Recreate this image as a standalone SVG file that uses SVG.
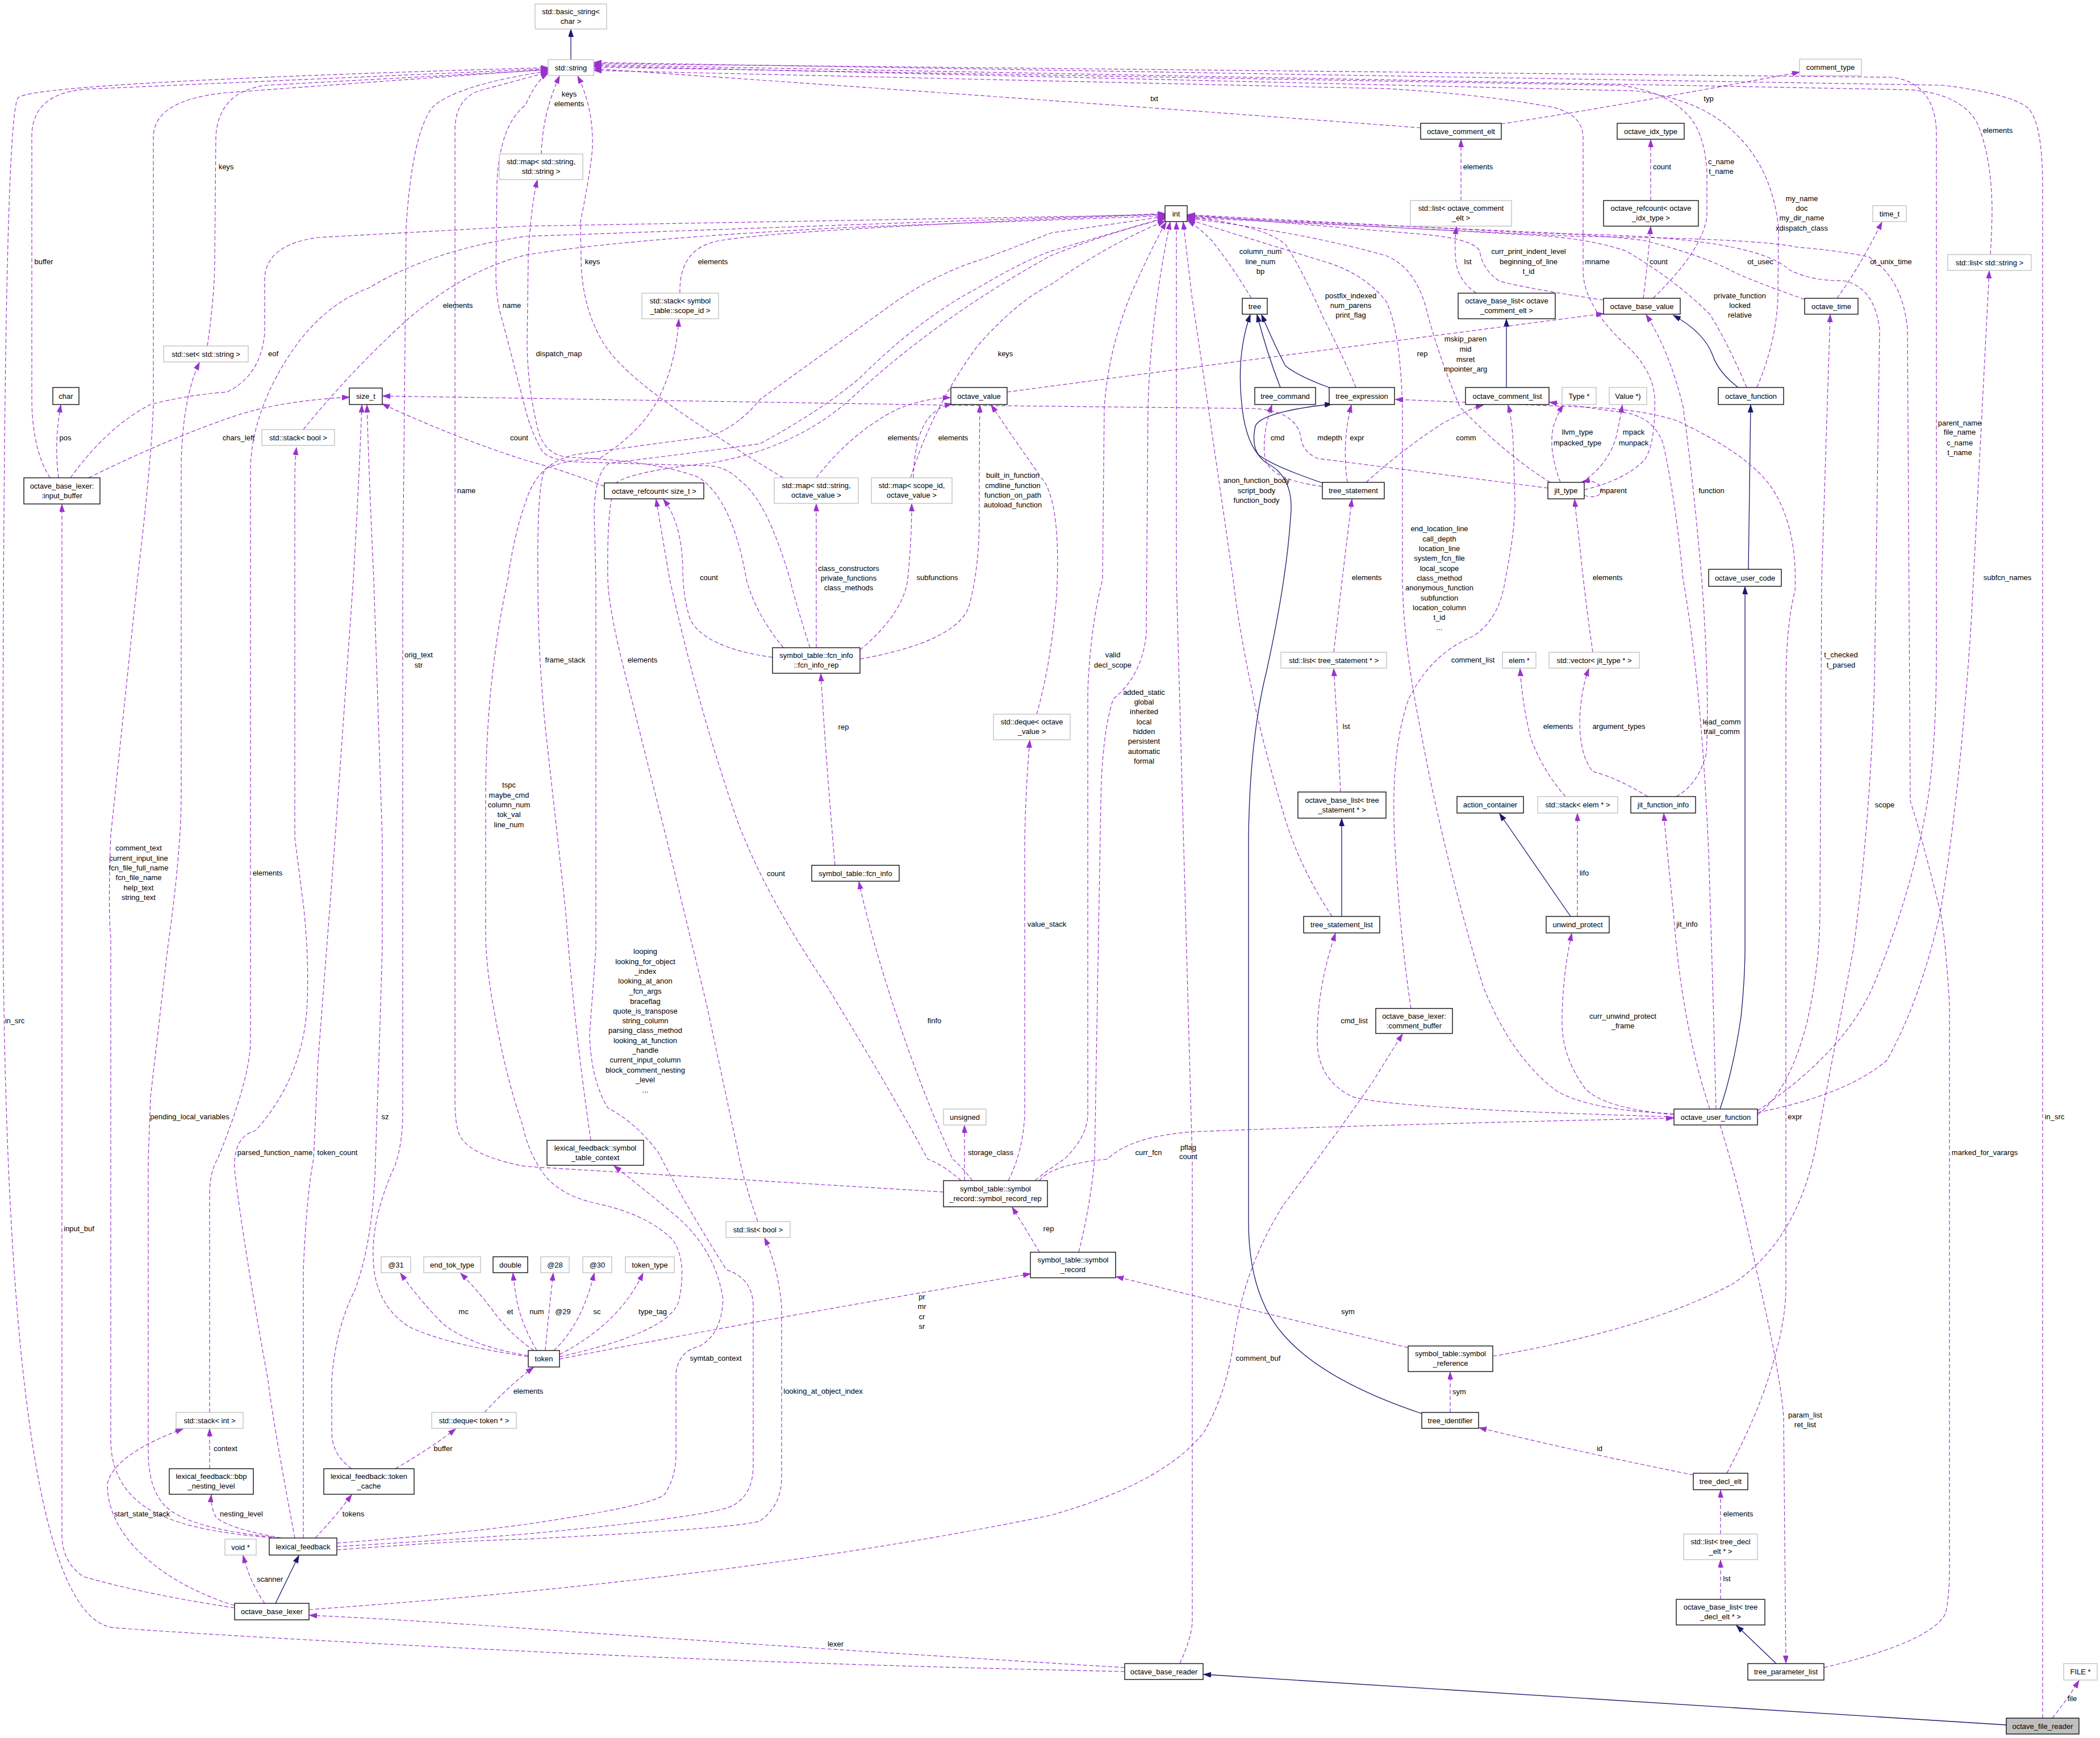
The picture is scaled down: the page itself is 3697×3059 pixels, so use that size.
<svg xmlns="http://www.w3.org/2000/svg" width="3697" height="3059" viewBox="0 0 3697 3059">
<style>
text{font-family:"Liberation Sans",Arial,Helvetica,sans-serif;font-size:13px;fill:#000;text-anchor:middle}
.n rect{fill:#fff;stroke:#000;stroke-width:1.3}
.g rect{fill:#fff;stroke:#bfbfbf;stroke-width:1.3}
.m rect{fill:#bfbfbf;stroke:#000;stroke-width:1.3}
.e{fill:none;stroke:#9a32cd;stroke-width:1.2;stroke-dasharray:7,4;marker-end:url(#ap)}
.s{fill:none;stroke:#191970;stroke-width:1.3;marker-end:url(#ab)}
</style>
<defs>
<marker id="ap" markerUnits="userSpaceOnUse" markerWidth="14" markerHeight="10" refX="13" refY="4.5" orient="auto" viewBox="0 0 14 10"><path d="M0,0 L13,4.5 L0,9 z" fill="#9a32cd" stroke="#9a32cd" stroke-width="1" stroke-dasharray="none"/></marker>
<marker id="ab" markerUnits="userSpaceOnUse" markerWidth="14" markerHeight="10" refX="13" refY="4.5" orient="auto" viewBox="0 0 14 10"><path d="M0,0 L13,4.5 L0,9 z" fill="#191970" stroke="#191970" stroke-width="1"/></marker>
</defs>
<rect x="0" y="0" width="3697" height="3059" fill="#fff"/>
<g id="connectors">
<path class="s" d="M1005,105 L1005,52"/>
<path class="s" d="M3060,682 Q3025,655 3015,625 Q3000,585 2946,555"/>
<path class="s" d="M3078,1002 L3082,713"/>
<path class="s" d="M3028,1952 Q3051,1885 3065,1790 Q3072,1720 3072,1670 L3072,1033"/>
<path class="s" d="M2254,682 Q2230,620 2213,554"/>
<path class="s" d="M2340,682 Q2287,663 2263,644 Q2245,610 2221,554"/>
<path class="s" d="M2328,850 Q2240,820 2215,800 Q2190,770 2185,700 Q2178,620 2201,554"/>
<path class="s" d="M2503,2488 Q2330,2430 2260,2350 Q2198,2280 2198,2150 L2198,1475 Q2200,1300 2230,1180 Q2265,1020 2272,911 Q2280,840 2230,815 Q2200,795 2210,750 Q2220,725 2345,711"/>
<path class="s" d="M2362,1613 L2362,1441"/>
<path class="s" d="M2765,1613 L2640,1432"/>
<path class="s" d="M2652,682 L2652,562"/>
<path class="s" d="M485,2822 L526,2738"/>
<path class="s" d="M3532,3036 L2119,2947"/>
<path class="s" d="M3127,2928 L3057,2861"/>

<path class="e" d="M1980,2942 Q1400,2930 900,2905 Q400,2880 202,2865 Q5,2850 5,1525 Q5,200 32,172 Q60,145 965,119"/>
<path class="e" d="M88,841 Q56,790 56,700 L56,240 Q56,165 150,157 L965,121"/>
<path class="e" d="M490,2707 Q300,2695 240,2640 Q195,2600 195,2534 L195,1650 Q190,1600 195,1470 L242,1020 Q270,780 270,700 L270,240 Q272,175 400,163 L965,122"/>
<path class="e" d="M365,609 Q378,520 378,455 L380,240 Q385,160 470,150 L965,123"/>
<path class="e" d="M930,2388 Q780,2365 720,2335 Q665,2300 658,2230 Q650,2150 696,2050 Q709,2010 709,1960 L709,1020 L715,400 Q725,240 760,190 Q800,150 965,125"/>
<path class="e" d="M1661,2098 L925,2053 Q830,2035 810,2000 Q801,1980 801,1940 L801,230 Q801,170 850,158 L965,127"/>
<path class="e" d="M1426,1140 Q1400,1060 1391,1020 Q1350,880 1303,846 Q1280,822 1250,820 L1013,813 Q970,810 955,795 Q935,760 925,720 L885,566 Q873,530 873,480 L875,320 Q880,220 925,185 Q945,140 965,129"/>
<path class="e" d="M953,271 Q955,200 985,134"/>
<path class="e" d="M1379,841 Q1279,781 1190,720 Q1090,651 1060,600 Q1025,540 1023,460 L1022,390 Q1040,300 1043,260 Q1045,190 1017,134"/>
<path class="e" d="M2501,225 Q1800,172 1046,121"/>
<path class="e" d="M2789,862 Q2860,845 2895,810 Q2915,780 2913,700 Q2910,650 2860,605 Q2790,540 2787,480 L2787,240 Q2785,200 2730,188 Q2600,165 2440,156 L1046,124"/>
<path class="e" d="M2910,525 Q2998,440 3005,380 L3005,300 Q3000,230 2969,200 Q2930,160 2850,150 L1046,118"/>
<path class="e" d="M3093,682 Q3128,600 3130,520 L3131,400 Q3120,300 3060,240 Q3000,175 2880,160 L1046,116"/>
<path class="e" d="M3504,448 Q3507,400 3507,364 Q3505,270 3480,215 Q3451,165 3363,158 L1046,114"/>
<path class="e" d="M3094,1955 Q3250,1850 3300,1730 Q3370,1560 3395,1400 Q3409,1300 3409,1150 L3409,230 Q3405,145 3330,136 L1046,112"/>
<path class="e" d="M3596,3024 L3596,330 Q3596,215 3570,190 Q3540,165 3420,150 L1046,110"/>
<path class="e" d="M478,2705 Q330,2690 290,2650 Q262,2620 261,2560 L261,2040 L265,1931 L295,1670 Q319,1500 319,1400 L319,813 Q322,700 351,638"/>
<path class="e" d="M1379,1140 Q1330,1080 1314,1020 Q1290,880 1230,840 Q1150,810 1000,805 Q960,800 948,760 Q928,680 928,600 L930,450 Q935,360 946,317"/>
<path class="e" d="M103,841 Q95,780 107,713"/>
<path class="e" d="M156,841 Q300,770 420,730 Q500,705 615,699"/>
<path class="e" d="M124,841 Q190,750 265,712 Q330,695 400,690 Q460,660 466,585 L466,488 Q470,430 560,418 L925,398 L2051,378"/>
<path class="e" d="M534,756 Q620,650 720,560 Q820,475 925,449 Q1100,420 1500,400 L2051,380"/>
<path class="e" d="M369,2486 L369,2100 Q370,2060 383,2040 Q440,1900 441,1833 L441,820 Q445,730 500,640 Q560,540 649,507 Q760,440 925,416 L2051,376"/>
<path class="e" d="M519,2707 Q480,2500 472,2430 Q430,2200 413,2060 Q410,2000 450,1990 Q530,1900 540,1780 Q545,1700 535,1600 L519,1475 L519,850 Q519,810 522,788"/>
<path class="e" d="M534,2707 L534,2235 Q540,2100 552,2040 L560,1866 L590,1475 L622,1020 Q632,850 637,713"/>
<path class="e" d="M619,2585 Q584,2560 584,2520 L584,2430 Q590,2340 625,2270 Q658,2180 661,2040 L667,1866 L673,1670 L673,1475 L658,1020 Q650,850 646,713"/>
<path class="e" d="M985,2388 Q1179,2345 1195,2290 Q1210,2220 1185,2183 Q1140,2137 1049,2118 Q990,2105 960,2070 Q930,2030 920,1980 Q891,1898 870,1780 Q855,1700 855,1640 L855,1410 Q855,1200 894,1020 Q905,940 925,885 Q945,815 1013,800 L1250,768 Q1300,750 1338,703 L1574,533 Q1650,480 1733,455 Q1800,430 1850,410 L2051,381"/>
<path class="e" d="M930,2386 Q830,2370 780,2330 Q740,2290 705,2241"/>
<path class="e" d="M940,2377 Q900,2350 870,2310 Q840,2270 811,2241"/>
<path class="e" d="M945,2377 Q918,2330 910,2290 Q905,2260 903,2241"/>
<path class="e" d="M960,2377 Q966,2310 974,2241"/>
<path class="e" d="M975,2377 Q1025,2330 1046,2241"/>
<path class="e" d="M985,2384 Q1090,2330 1132,2241"/>
<path class="e" d="M985,2392 Q1300,2330 1814,2242"/>
<path class="e" d="M853,2486 Q900,2435 939,2407"/>
<path class="e" d="M696,2585 Q760,2548 802,2515"/>
<path class="e" d="M369,2585 L369,2515"/>
<path class="e" d="M495,2707 Q400,2690 380,2670 Q370,2650 372,2631"/>
<path class="e" d="M555,2707 Q590,2670 619,2631"/>
<path class="e" d="M466,2822 Q440,2785 428,2738"/>
<path class="e" d="M413,2826 Q300,2790 236,2722 Q189,2670 189,2612 Q200,2560 322,2515"/>
<path class="e" d="M413,2830 Q250,2805 147,2775 Q109,2750 109,2700 L109,888"/>
<path class="e" d="M544,2833 Q1300,2780 1850,2667 Q2050,2610 2120,2520 Q2160,2450 2172,2360 Q2190,2230 2260,2120 Q2350,2000 2416,1905 Q2450,1850 2469,1820"/>
<path class="e" d="M1980,2935 Q1400,2900 925,2866 Q700,2850 545,2843"/>
<path class="e" d="M3613,3024 Q3640,2990 3660,2958"/>
<path class="e" d="M3029,2815 L3029,2746"/>
<path class="e" d="M3029,2700 L3029,2623"/>
<path class="e" d="M2981,2596 Q2800,2560 2604,2513"/>
<path class="e" d="M3040,2593 Q3092,2495 3115,2420 Q3144,2330 3144,2267 L3144,1215 Q3144,1100 3160,1040 Q3165,930 3120,860 Q3080,800 2951,740 Q2880,718 2775,716 L2457,703"/>
<path class="e" d="M2553,2486 L2553,2415"/>
<path class="e" d="M2479,2372 Q2200,2305 1965,2247"/>
<path class="e" d="M2628,2387 Q2900,2340 3050,2260 Q3170,2180 3200,2000 L3263,1670 Q3292,1450 3300,1200 L3309,580 Q3300,505 3245,494 Q3190,495 3150,475 Q3090,418 2775,412 L2091,381"/>
<path class="e" d="M3028,1980 Q3060,2080 3092,2235 Q3135,2420 3140,2495 L3144,2927"/>
<path class="e" d="M3211,2935 Q3400,2890 3425,2840 Q3432,2810 3432,2760 L3432,1768 Q3425,1650 3416,1605 Q3380,1460 3363,1410 L3358,580 Q3350,490 3290,452 Q3230,440 3163,435 Q3100,420 2775,416 L2091,383"/>
<path class="e" d="M3094,1958 Q3251,1927 3322,1866 Q3381,1760 3416,1605 Q3450,1400 3470,1100 L3502,477"/>
<path class="e" d="M3094,1962 Q3150,1920 3181,1800 Q3204,1700 3204,1600 L3207,1020 L3222,554"/>
<path class="e" d="M3021,1952 Q3016,1750 3008,1500 Q2995,1200 2963,1020 Q2950,880 2928,781 Q2910,730 2850,725 L2728,708"/>
<path class="e" d="M3010,1952 Q2960,1800 2946,1605 Q2935,1500 2929,1432"/>
<path class="e" d="M2947,1962 Q2820,1950 2790,1915 Q2750,1860 2750,1800 Q2750,1720 2767,1643"/>
<path class="e" d="M2947,1966 L2775,1960 Q2440,1948 2380,1930 Q2320,1900 2319,1833 Q2318,1740 2351,1643"/>
<path class="e" d="M2947,1960 Q2800,1955 2740,1920 Q2660,1860 2611,1736 Q2540,1500 2500,1280 Q2470,1130 2469,1020 L2469,716 Q2465,580 2440,530 Q2400,480 2330,460 Q2200,420 2091,386"/>
<path class="e" d="M1830,2078 Q1850,2050 1950,2040 Q1990,2000 2100,1992 Q2400,1980 2946,1968"/>
<path class="e" d="M1698,2078 L1698,1981"/>
<path class="e" d="M1775,2078 Q1800,2030 1804,1963 L1804,1475 Q1806,1380 1813,1303"/>
<path class="e" d="M1712,2078 Q1690,2050 1677,2040 Q1640,1960 1600,1850 Q1540,1680 1512,1552"/>
<path class="e" d="M1692,2078 Q1660,2050 1633,2040 Q1580,1940 1456,1736 Q1350,1580 1300,1450 Q1230,1250 1179,1020 L1155,879"/>
<path class="e" d="M1822,2078 Q1850,2055 1874,2040 Q1915,2000 1915,1960 L1915,1215 Q1920,1100 1941,1020 L1944,720 Q1950,620 1990,520 Q2030,430 2053,391"/>
<path class="e" d="M1899,2204 Q1920,2120 1927,2040 L1938,1410 Q1940,1290 1960,1230 Q2010,1190 2018,1117 L2021,720 Q2025,560 2060,391"/>
<path class="e" d="M1830,2204 Q1810,2170 1782,2125"/>
<path class="e" d="M1470,1523 Q1455,1350 1445,1186"/>
<path class="e" d="M1360,1157 Q1240,1140 1215,1090 Q1202,1050 1202,1000 Q1200,920 1168,879"/>
<path class="e" d="M1437,1140 L1437,887"/>
<path class="e" d="M1514,1144 Q1590,1080 1598,1020 Q1605,950 1605,887"/>
<path class="e" d="M1514,1160 Q1680,1130 1705,1070 Q1725,1000 1724,900 Q1724,780 1725,713"/>
<path class="e" d="M1437,841 Q1500,760 1580,720 Q1630,700 1673,700"/>
<path class="e" d="M1608,841 Q1610,760 1640,730 Q1655,715 1676,711"/>
<path class="e" d="M1603,841 Q1640,720 1720,610 Q1790,530 1850,501 Q1950,430 2051,389"/>
<path class="e" d="M1773,690 Q2300,620 2823,552"/>
<path class="e" d="M1825,1257 Q1850,1170 1860,1050 Q1868,900 1840,850 Q1790,780 1745,713"/>
<path class="e" d="M1064,856 Q1000,830 925,810 Q800,770 673,711"/>
<path class="e" d="M1197,516 Q1195,440 1260,425 Q1350,405 2051,377"/>
<path class="e" d="M1040,2007 Q1010,1800 996,1605 L960,1280 Q947,1150 947,1020 Q945,850 960,825 Q1000,808 1055,807 Q1130,760 1160,700 Q1190,640 1195,562"/>
<path class="e" d="M593,2716 Q800,2700 925,2683 Q1150,2650 1170,2630 Q1190,2600 1190,2560 L1190,2417 Q1195,2378 1230,2370 Q1270,2350 1273,2287 Q1260,2200 1190,2140 Q1130,2090 1081,2052"/>
<path class="e" d="M593,2728 Q800,2712 925,2709 Q1300,2690 1338,2677 Q1376,2650 1376,2600 L1376,2300 Q1370,2230 1346,2179"/>
<path class="e" d="M593,2722 Q800,2710 925,2700 Q1250,2670 1290,2650 Q1326,2630 1326,2580 L1326,2300 Q1326,2250 1279,2235 Q1200,2110 1160,2030 Q1120,1976 1070,1950 Q1040,1900 1038,1820 L1049,1670 L1049,1020 L1046,900 Q1048,830 1073,815 Q1200,800 1338,781 Q1450,720 1515,664 Q1620,560 1721,507 Q1800,460 1850,442 L2051,383"/>
<path class="e" d="M1334,2150 Q1310,2080 1302,2040 L1244,1768 L1173,1475 L1108,1215 Q1072,1080 1070,1020 Q1068,880 1085,850 Q1110,830 1250,815 Q1400,790 1500,700 Q1650,560 1850,450 Q1950,410 2051,385"/>
<path class="e" d="M2203,525 Q2169,468 2133,423 Q2110,400 2091,388"/>
<path class="e" d="M2387,682 Q2369,637 2330,560 Q2290,470 2263,430 Q2220,395 2091,382"/>
<path class="e" d="M2823,528 Q2700,510 2640,495 Q2610,475 2605,442 Q2595,420 2500,412 L2091,378"/>
<path class="e" d="M2893,525 Q2900,470 2906,399"/>
<path class="e" d="M2906,353 L2906,246"/>
<path class="e" d="M3075,682 Q3040,600 3010,553 Q2951,494 2863,442 Q2800,420 2700,414 L2091,380"/>
<path class="e" d="M3177,527 Q3100,500 3057,481 Q2998,449 2893,423 Q2800,412 2700,410 L2091,378"/>
<path class="e" d="M3234,525 Q3275,468 3313,391"/>
<path class="e" d="M2729,849 Q2650,800 2570,716 Q2530,620 2510,540 Q2490,470 2440,450 Q2300,410 2091,384"/>
<path class="e" d="M2725,859 Q2500,830 2320,807 Q2292,795 2290,768 Q2280,722 2204,719 L1662,713 L925,701 L674,697"/>
<path class="e" d="M2747,849 Q2725,790 2735,750 Q2742,728 2752,713"/>
<path class="e" d="M2784,849 Q2830,820 2845,770 Q2852,740 2856,713"/>
<path class="e" d="M2789,872 C2830,885 2830,840 2786,848"/>
<path class="e" d="M2804,1148 Q2790,1050 2780,950 Q2775,910 2772,879"/>
<path class="e" d="M2901,1402 Q2845,1368 2804,1358 Q2781,1330 2781,1267 Q2783,1215 2797,1177"/>
<path class="e" d="M2951,1402 Q2990,1380 3004,1326 Q3010,1215 2996,1020 Q2981,846 2963,716 Q2940,620 2898,554"/>
<path class="e" d="M2756,1402 Q2717,1358 2695,1300 Q2680,1240 2676,1177"/>
<path class="e" d="M2777,1613 L2777,1432"/>
<path class="e" d="M2360,1394 Q2355,1290 2348,1177"/>
<path class="e" d="M2348,1148 Q2365,1000 2380,879"/>
<path class="e" d="M2328,856 Q2240,845 2228,810 Q2220,770 2239,713"/>
<path class="e" d="M2372,849 Q2362,780 2379,713"/>
<path class="e" d="M2405,849 Q2470,790 2540,745 Q2590,718 2611,713"/>
<path class="e" d="M2599,516 Q2567,494 2563,460 Q2560,430 2564,399"/>
<path class="e" d="M2572,353 L2572,246"/>
<path class="e" d="M2643,218 Q2800,195 3168,127"/>
<path class="e" d="M2484,1775 Q2465,1650 2455,1475 Q2448,1320 2480,1230 Q2520,1150 2593,1120 Q2640,1090 2650,1020 Q2668,930 2667,880 L2664,781 Q2662,740 2655,713"/>
<path class="e" d="M2345,1613 Q2290,1530 2263,1443 Q2220,1300 2204,1215 Q2180,1100 2171,1020 L2127,716 Q2110,600 2098,520 Q2090,450 2083,391"/>
<path class="e" d="M2077,2928 Q2099,2880 2099,2852 L2099,2040 L2071,1020 L2071,391"/>

<g id="edge-labels">
<text x="398" y="297.5">keys</text>
<text x="77" y="464.5">buffer</text>
<text x="481" y="626.5">eof</text>
<text x="115" y="774.5">pos</text>
<text x="420" y="774.5">chars_left</text>
<text x="806" y="541.5">elements</text>
<text x="901" y="541.5">name</text>
<text x="821" y="867.5">name</text>
<text x="914" y="774.5">count</text>
<text x="1002"><tspan x="1002" y="169.5">keys</tspan><tspan x="1002" y="186.5">elements</tspan></text>
<text x="1043" y="464.5">keys</text>
<text x="1255" y="464.5">elements</text>
<text x="984" y="626.5">dispatch_map</text>
<text x="1770" y="626.5">keys</text>
<text x="1589" y="774.5">elements</text>
<text x="1678" y="774.5">elements</text>
<text x="1783"><tspan x="1783" y="840.5">built_in_function</tspan><tspan x="1783" y="858.5">cmdline_function</tspan><tspan x="1783" y="875.5">function_on_path</tspan><tspan x="1783" y="892.5">autoload_function</tspan></text>
<text x="1494"><tspan x="1494" y="1004.5">class_constructors</tspan><tspan x="1494" y="1021.5">private_functions</tspan><tspan x="1494" y="1038.5">class_methods</tspan></text>
<text x="1248" y="1020.5">count</text>
<text x="1650" y="1020.5">subfunctions</text>
<text x="2032" y="177.5">txt</text>
<text x="2602" y="297.5">elements</text>
<text x="2219"><tspan x="2219" y="446.5">column_num</tspan><tspan x="2219" y="464.5">line_num</tspan><tspan x="2219" y="481.5">bp</tspan></text>
<text x="2584" y="464.5">lst</text>
<text x="2691"><tspan x="2691" y="446.5">curr_print_indent_level</tspan><tspan x="2691" y="464.5">beginning_of_line</tspan><tspan x="2691" y="481.5">t_id</tspan></text>
<text x="2378"><tspan x="2378" y="524.5">postfix_indexed</tspan><tspan x="2378" y="541.5">num_parens</tspan><tspan x="2378" y="558.5">print_flag</tspan></text>
<text x="2504" y="626.5">rep</text>
<text x="2580"><tspan x="2580" y="600.5">mskip_paren</tspan><tspan x="2580" y="618.5">mid</tspan><tspan x="2580" y="636.5">msret</tspan><tspan x="2580" y="653.5">mpointer_arg</tspan></text>
<text x="2249" y="774.5">cmd</text>
<text x="2341" y="774.5">mdepth</text>
<text x="2389" y="774.5">expr</text>
<text x="2581" y="774.5">comm</text>
<text x="2212"><tspan x="2212" y="849.5">anon_function_body</tspan><tspan x="2212" y="867.5">script_body</tspan><tspan x="2212" y="884.5">function_body</tspan></text>
<text x="2534"><tspan x="2534" y="934.5">end_location_line</tspan><tspan x="2534" y="952.5">call_depth</tspan><tspan x="2534" y="969.5">location_line</tspan><tspan x="2534" y="986.5">system_fcn_file</tspan><tspan x="2534" y="1004.5">local_scope</tspan><tspan x="2534" y="1021.5">class_method</tspan><tspan x="2534" y="1038.5">anonymous_function</tspan><tspan x="2534" y="1056.5">subfunction</tspan><tspan x="2534" y="1073.5">location_column</tspan><tspan x="2534" y="1090.5">t_id</tspan><tspan x="2534" y="1108.5">...</tspan></text>
<text x="2406" y="1020.5">elements</text>
<text x="3008" y="177.5">typ</text>
<text x="2926" y="297.5">count</text>
<text x="3030"><tspan x="3030" y="288.5">c_name</tspan><tspan x="3030" y="305.5">t_name</tspan></text>
<text x="3517" y="233.5">elements</text>
<text x="3172"><tspan x="3172" y="353.5">my_name</tspan><tspan x="3172" y="370.5">doc</tspan><tspan x="3172" y="387.5">my_dir_name</tspan><tspan x="3172" y="405.5">xdispatch_class</tspan></text>
<text x="2812" y="464.5">mname</text>
<text x="2920" y="464.5">count</text>
<text x="3099" y="464.5">ot_usec</text>
<text x="3329" y="464.5">ot_unix_time</text>
<text x="3063"><tspan x="3063" y="524.5">private_function</tspan><tspan x="3063" y="541.5">locked</tspan><tspan x="3063" y="558.5">relative</tspan></text>
<text x="2777"><tspan x="2777" y="764.5">llvm_type</tspan><tspan x="2777" y="783.5">mpacked_type</tspan></text>
<text x="2876"><tspan x="2876" y="764.5">mpack</tspan><tspan x="2876" y="783.5">munpack</tspan></text>
<text x="2840" y="867.5">mparent</text>
<text x="3013" y="867.5">function</text>
<text x="3450"><tspan x="3450" y="748.5">parent_name</tspan><tspan x="3450" y="764.5">file_name</tspan><tspan x="3450" y="783.5">c_name</tspan><tspan x="3450" y="800.5">t_name</tspan></text>
<text x="2830" y="1020.5">elements</text>
<text x="3534" y="1020.5">subfcn_names</text>
<text x="737"><tspan x="737" y="1156.5">orig_text</tspan><tspan x="737" y="1174.5">str</tspan></text>
<text x="896"><tspan x="896" y="1385.5">tspc</tspan><tspan x="896" y="1403.5">maybe_cmd</tspan><tspan x="896" y="1420.5">column_num</tspan><tspan x="896" y="1437.5">tok_val</tspan><tspan x="896" y="1455.5">line_num</tspan></text>
<text x="244"><tspan x="244" y="1496.5">comment_text</tspan><tspan x="244" y="1514.5">current_input_line</tspan><tspan x="244" y="1531.5">fcn_file_full_name</tspan><tspan x="244" y="1548.5">fcn_file_name</tspan><tspan x="244" y="1566.5">help_text</tspan><tspan x="244" y="1583.5">string_text</tspan></text>
<text x="471" y="1540.5">elements</text>
<text x="26" y="1800.5">in_src</text>
<text x="334" y="1969.5">pending_local_variables</text>
<text x="678" y="1969.5">sz</text>
<text x="484" y="2032.5">parsed_function_name</text>
<text x="594" y="2032.5">token_count</text>
<text x="995" y="1165.5">frame_stack</text>
<text x="1131" y="1165.5">elements</text>
<text x="1485" y="1283.5">rep</text>
<text x="1366" y="1541.5">count</text>
<text x="1645" y="1800.5">finfo</text>
<text x="1843" y="1630.5">value_stack</text>
<text x="1744" y="2032.5">storage_class</text>
<text x="1136"><tspan x="1136" y="1678.5">looping</tspan><tspan x="1136" y="1696.5">looking_for_object</tspan><tspan x="1136" y="1713.5">_index</tspan><tspan x="1136" y="1730.5">looking_at_anon</tspan><tspan x="1136" y="1748.5">_fcn_args</tspan><tspan x="1136" y="1766.5">braceflag</tspan><tspan x="1136" y="1783.5">quote_is_transpose</tspan><tspan x="1136" y="1800.5">string_column</tspan><tspan x="1136" y="1817.5">parsing_class_method</tspan><tspan x="1136" y="1835.5">looking_at_function</tspan><tspan x="1136" y="1852.5">_handle</tspan><tspan x="1136" y="1869.5">current_input_column</tspan><tspan x="1136" y="1887.5">block_comment_nesting</tspan><tspan x="1136" y="1904.5">_level</tspan><tspan x="1136" y="1922.5">...</tspan></text>
<text x="1959"><tspan x="1959" y="1156.5">valid</tspan><tspan x="1959" y="1174.5">decl_scope</tspan></text>
<text x="2014"><tspan x="2014" y="1222.5">added_static</tspan><tspan x="2014" y="1239.5">global</tspan><tspan x="2014" y="1256.5">inherited</tspan><tspan x="2014" y="1274.5">local</tspan><tspan x="2014" y="1291.5">hidden</tspan><tspan x="2014" y="1308.5">persistent</tspan><tspan x="2014" y="1326.5">automatic</tspan><tspan x="2014" y="1343.5">formal</tspan></text>
<text x="2593" y="1165.5">comment_list</text>
<text x="2370" y="1282.5">lst</text>
<text x="2743" y="1282.5">elements</text>
<text x="2384" y="1800.5">cmd_list</text>
<text x="2022" y="2032.5">curr_fcn</text>
<text x="2092"><tspan x="2092" y="2023.5">pflag</tspan><tspan x="2092" y="2039.5">count</tspan></text>
<text x="3241"><tspan x="3241" y="1156.5">t_checked</tspan><tspan x="3241" y="1174.5">t_parsed</tspan></text>
<text x="3031"><tspan x="3031" y="1274.5">lead_comm</tspan><tspan x="3031" y="1291.5">trail_comm</tspan></text>
<text x="2850" y="1282.5">argument_types</text>
<text x="3318" y="1420.5">scope</text>
<text x="2789" y="1540.5">lifo</text>
<text x="2970" y="1630.5">jit_info</text>
<text x="2857"><tspan x="2857" y="1792.5">curr_unwind_protect</tspan><tspan x="2857" y="1809.5">_frame</tspan></text>
<text x="3160" y="1969.5">expr</text>
<text x="3617" y="1969.5">in_src</text>
<text x="3494" y="2032.5">marked_for_varargs</text>
<text x="139" y="2166.5">input_buf</text>
<text x="816" y="2312.5">mc</text>
<text x="898" y="2312.5">et</text>
<text x="930" y="2452.5">elements</text>
<text x="397" y="2553.5">context</text>
<text x="780" y="2553.5">buffer</text>
<text x="250" y="2668.5">start_state_stack</text>
<text x="425" y="2668.5">nesting_level</text>
<text x="622" y="2668.5">tokens</text>
<text x="475" y="2783.5">scanner</text>
<text x="945" y="2312.5">num</text>
<text x="991" y="2312.5">@29</text>
<text x="1051" y="2312.5">sc</text>
<text x="1149" y="2312.5">type_tag</text>
<text x="1623"><tspan x="1623" y="2286.5">pr</tspan><tspan x="1623" y="2303.5">mr</tspan><tspan x="1623" y="2321.5">cr</tspan><tspan x="1623" y="2338.5">sr</tspan></text>
<text x="1260" y="2394.5">symtab_context</text>
<text x="1449" y="2452.5">looking_at_object_index</text>
<text x="1471" y="2897.5">lexer</text>
<text x="1846" y="2166.5">rep</text>
<text x="2373" y="2312.5">sym</text>
<text x="2215" y="2394.5">comment_buf</text>
<text x="2569" y="2453.5">sym</text>
<text x="2816" y="2553.5">id</text>
<text x="3178"><tspan x="3178" y="2494.5">param_list</tspan><tspan x="3178" y="2511.5">ret_list</tspan></text>
<text x="3060" y="2668.5">elements</text>
<text x="3040" y="2782.5">lst</text>
<text x="3648" y="2993.5">file</text>
</g>
</g>

<g id="n-basic_string" class="g"><rect x="942" y="7" width="126" height="44"/><text x="1005" y="24.5">std::basic_string&lt;</text><text x="1005" y="41.5">char &gt;</text></g>
<g id="n-string" class="g"><rect x="965" y="105" width="80" height="28"/><text x="1005" y="123.5">std::string</text></g>
<g id="n-map_ss" class="g"><rect x="879" y="271" width="147" height="45"/><text x="952.5" y="289">std::map&lt; std::string,</text><text x="952.5" y="306">std::string &gt;</text></g>
<g id="n-set_s" class="g"><rect x="288" y="609" width="149" height="28"/><text x="362.5" y="627.5">std::set&lt; std::string &gt;</text></g>
<g id="n-char" class="n"><rect x="93" y="682" width="46" height="30"/><text x="116" y="701.5">char</text></g>
<g id="n-size_t" class="n"><rect x="615" y="683" width="58" height="29"/><text x="644" y="702">size_t</text></g>
<g id="n-stack_bool" class="g"><rect x="461" y="756" width="128" height="28"/><text x="525" y="774.5">std::stack&lt; bool &gt;</text></g>
<g id="n-input_buffer" class="n"><rect x="42" y="841" width="134" height="46"/><text x="109" y="859.5">octave_base_lexer:</text><text x="109" y="876.5">:input_buffer</text></g>
<g id="n-stack_scope" class="g"><rect x="1130" y="516" width="135" height="45"/><text x="1197.5" y="534">std::stack&lt; symbol</text><text x="1197.5" y="551">_table::scope_id &gt;</text></g>
<g id="n-octave_value" class="n"><rect x="1674" y="682" width="99" height="30"/><text x="1723.5" y="701.5">octave_value</text></g>
<g id="n-refcount_size" class="n"><rect x="1064" y="850" width="175" height="28"/><text x="1151.5" y="868.5">octave_refcount&lt; size_t &gt;</text></g>
<g id="n-map_sov" class="g"><rect x="1363" y="841" width="148" height="45"/><text x="1437" y="859">std::map&lt; std::string,</text><text x="1437" y="876">octave_value &gt;</text></g>
<g id="n-map_iov" class="g"><rect x="1534" y="841" width="142" height="45"/><text x="1605" y="859">std::map&lt; scope_id,</text><text x="1605" y="876">octave_value &gt;</text></g>
<g id="n-int" class="n"><rect x="2051" y="362" width="39" height="28"/><text x="2070.5" y="380.5">int</text></g>
<g id="n-octave_comment_elt" class="n"><rect x="2501" y="217" width="142" height="28"/><text x="2572" y="235.5">octave_comment_elt</text></g>
<g id="n-list_comment_elt" class="g"><rect x="2483" y="353" width="178" height="45"/><text x="2572" y="371">std::list&lt; octave_comment</text><text x="2572" y="388">_elt &gt;</text></g>
<g id="n-tree" class="n"><rect x="2187" y="525" width="44" height="28"/><text x="2209" y="543.5">tree</text></g>
<g id="n-base_list_comment" class="n"><rect x="2567" y="516" width="171" height="45"/><text x="2652.5" y="534">octave_base_list&lt; octave</text><text x="2652.5" y="551">_comment_elt &gt;</text></g>
<g id="n-tree_command" class="n"><rect x="2209" y="682" width="107" height="30"/><text x="2262.5" y="701.5">tree_command</text></g>
<g id="n-tree_expression" class="n"><rect x="2340" y="682" width="115" height="30"/><text x="2397.5" y="701.5">tree_expression</text></g>
<g id="n-octave_comment_list" class="n"><rect x="2580" y="682" width="147" height="30"/><text x="2653.5" y="701.5">octave_comment_list</text></g>
<g id="n-type_ptr" class="g"><rect x="2750" y="682" width="60" height="30"/><text x="2780" y="701.5">Type *</text></g>
<g id="n-tree_statement" class="n"><rect x="2328" y="849" width="109" height="29"/><text x="2382.5" y="868">tree_statement</text></g>
<g id="n-jit_type" class="n"><rect x="2725" y="849" width="64" height="29"/><text x="2757" y="868">jit_type</text></g>
<g id="n-comment_type" class="g"><rect x="3168" y="104" width="109" height="29"/><text x="3222.5" y="123">comment_type</text></g>
<g id="n-octave_idx_type" class="n"><rect x="2847" y="217" width="118" height="28"/><text x="2906" y="235.5">octave_idx_type</text></g>
<g id="n-refcount_idx" class="n"><rect x="2823" y="353" width="167" height="45"/><text x="2906.5" y="371">octave_refcount&lt; octave</text><text x="2906.5" y="388">_idx_type &gt;</text></g>
<g id="n-time_t" class="g"><rect x="3297" y="362" width="59" height="28"/><text x="3326.5" y="380.5">time_t</text></g>
<g id="n-list_string" class="g"><rect x="3429" y="448" width="147" height="28"/><text x="3502.5" y="466.5">std::list&lt; std::string &gt;</text></g>
<g id="n-octave_base_value" class="n"><rect x="2823" y="525" width="135" height="28"/><text x="2890.5" y="543.5">octave_base_value</text></g>
<g id="n-octave_time" class="n"><rect x="3177" y="525" width="94" height="28"/><text x="3224" y="543.5">octave_time</text></g>
<g id="n-value_ptr" class="g"><rect x="2833" y="682" width="66" height="30"/><text x="2866" y="701.5">Value *)</text></g>
<g id="n-octave_function" class="n"><rect x="3025" y="682" width="115" height="30"/><text x="3082.5" y="701.5">octave_function</text></g>
<g id="n-octave_user_code" class="n"><rect x="3008" y="1002" width="128" height="30"/><text x="3072" y="1021.5">octave_user_code</text></g>
<g id="n-fcn_info_rep" class="n"><rect x="1360" y="1140" width="154" height="45"/><text x="1437" y="1158">symbol_table::fcn_info</text><text x="1437" y="1175">::fcn_info_rep</text></g>
<g id="n-fcn_info" class="n"><rect x="1429" y="1523" width="154" height="28"/><text x="1506" y="1541.5">symbol_table::fcn_info</text></g>
<g id="n-deque_ov" class="g"><rect x="1749" y="1257" width="135" height="45"/><text x="1816.5" y="1275">std::deque&lt; octave</text><text x="1816.5" y="1292">_value &gt;</text></g>
<g id="n-unsigned" class="g"><rect x="1661" y="1952" width="75" height="28"/><text x="1698.5" y="1970.5">unsigned</text></g>
<g id="n-symbol_table_context" class="n"><rect x="963" y="2007" width="170" height="44"/><text x="1048" y="2024.5">lexical_feedback::symbol</text><text x="1048" y="2041.5">_table_context</text></g>
<g id="n-list_tree_statement" class="g"><rect x="2255" y="1148" width="186" height="28"/><text x="2348" y="1166.5">std::list&lt; tree_statement * &gt;</text></g>
<g id="n-elem_ptr" class="g"><rect x="2645" y="1148" width="59" height="28"/><text x="2674.5" y="1166.5">elem *</text></g>
<g id="n-vector_jit_type" class="g"><rect x="2727" y="1148" width="159" height="28"/><text x="2806.5" y="1166.5">std::vector&lt; jit_type * &gt;</text></g>
<g id="n-base_list_statement" class="n"><rect x="2285" y="1394" width="155" height="46"/><text x="2362.5" y="1412.5">octave_base_list&lt; tree</text><text x="2362.5" y="1429.5">_statement * &gt;</text></g>
<g id="n-action_container" class="n"><rect x="2565" y="1402" width="117" height="29"/><text x="2623.5" y="1421">action_container</text></g>
<g id="n-stack_elem" class="g"><rect x="2707" y="1402" width="141" height="29"/><text x="2777.5" y="1421">std::stack&lt; elem * &gt;</text></g>
<g id="n-jit_function_info" class="n"><rect x="2871" y="1402" width="114" height="29"/><text x="2928" y="1421">jit_function_info</text></g>
<g id="n-tree_statement_list" class="n"><rect x="2295" y="1613" width="134" height="29"/><text x="2362" y="1632">tree_statement_list</text></g>
<g id="n-unwind_protect" class="n"><rect x="2722" y="1613" width="111" height="29"/><text x="2777.5" y="1632">unwind_protect</text></g>
<g id="n-comment_buffer" class="n"><rect x="2422" y="1775" width="135" height="44"/><text x="2489.5" y="1792.5">octave_base_lexer:</text><text x="2489.5" y="1809.5">:comment_buffer</text></g>
<g id="n-octave_user_function" class="n"><rect x="2947" y="1952" width="147" height="28"/><text x="3020.5" y="1970.5">octave_user_function</text></g>
<g id="n-at31" class="g"><rect x="671" y="2212" width="52" height="28"/><text x="697" y="2230.5">@31</text></g>
<g id="n-end_tok_type" class="g"><rect x="746" y="2212" width="100" height="28"/><text x="796" y="2230.5">end_tok_type</text></g>
<g id="n-double" class="n"><rect x="868" y="2212" width="61" height="28"/><text x="898.5" y="2230.5">double</text></g>
<g id="n-at28" class="g"><rect x="952" y="2212" width="50" height="28"/><text x="977" y="2230.5">@28</text></g>
<g id="n-at30" class="g"><rect x="1026" y="2212" width="51" height="28"/><text x="1051.5" y="2230.5">@30</text></g>
<g id="n-token_type" class="g"><rect x="1101" y="2212" width="86" height="28"/><text x="1144" y="2230.5">token_type</text></g>
<g id="n-symbol_record_rep" class="n"><rect x="1661" y="2078" width="183" height="46"/><text x="1752.5" y="2096.5">symbol_table::symbol</text><text x="1752.5" y="2113.5">_record::symbol_record_rep</text></g>
<g id="n-list_bool" class="g"><rect x="1278" y="2150" width="113" height="28"/><text x="1334.5" y="2168.5">std::list&lt; bool &gt;</text></g>
<g id="n-token" class="n"><rect x="930" y="2377" width="55" height="29"/><text x="957.5" y="2396">token</text></g>
<g id="n-symbol_record" class="n"><rect x="1814" y="2204" width="150" height="45"/><text x="1889" y="2222">symbol_table::symbol</text><text x="1889" y="2239">_record</text></g>
<g id="n-stack_int" class="g"><rect x="310" y="2486" width="118" height="28"/><text x="369" y="2504.5">std::stack&lt; int &gt;</text></g>
<g id="n-deque_token" class="g"><rect x="760" y="2486" width="149" height="28"/><text x="834.5" y="2504.5">std::deque&lt; token * &gt;</text></g>
<g id="n-bbp_nesting_level" class="n"><rect x="298" y="2585" width="148" height="45"/><text x="372" y="2603">lexical_feedback::bbp</text><text x="372" y="2620">_nesting_level</text></g>
<g id="n-token_cache" class="n"><rect x="570" y="2585" width="159" height="45"/><text x="649.5" y="2603">lexical_feedback::token</text><text x="649.5" y="2620">_cache</text></g>
<g id="n-void_ptr" class="g"><rect x="396" y="2709" width="55" height="28"/><text x="423.5" y="2727.5">void *</text></g>
<g id="n-lexical_feedback" class="n"><rect x="474" y="2707" width="119" height="30"/><text x="533.5" y="2726.5">lexical_feedback</text></g>
<g id="n-octave_base_lexer" class="n"><rect x="413" y="2822" width="131" height="29"/><text x="478.5" y="2841">octave_base_lexer</text></g>
<g id="n-symbol_reference" class="n"><rect x="2479" y="2369" width="149" height="45"/><text x="2553.5" y="2387">symbol_table::symbol</text><text x="2553.5" y="2404">_reference</text></g>
<g id="n-tree_identifier" class="n"><rect x="2503" y="2486" width="100" height="28"/><text x="2553" y="2504.5">tree_identifier</text></g>
<g id="n-octave_base_reader" class="n"><rect x="1980" y="2928" width="138" height="28"/><text x="2049" y="2946.5">octave_base_reader</text></g>
<g id="n-tree_decl_elt" class="n"><rect x="2981" y="2593" width="96" height="29"/><text x="3029" y="2612">tree_decl_elt</text></g>
<g id="n-list_tree_decl_elt" class="g"><rect x="2964" y="2700" width="130" height="45"/><text x="3029" y="2718">std::list&lt; tree_decl</text><text x="3029" y="2735">_elt * &gt;</text></g>
<g id="n-base_list_decl" class="n"><rect x="2951" y="2815" width="156" height="45"/><text x="3029" y="2833">octave_base_list&lt; tree</text><text x="3029" y="2850">_decl_elt * &gt;</text></g>
<g id="n-tree_parameter_list" class="n"><rect x="3077" y="2928" width="134" height="29"/><text x="3144" y="2947">tree_parameter_list</text></g>
<g id="n-file_ptr" class="g"><rect x="3633" y="2928" width="59" height="29"/><text x="3662.5" y="2947">FILE *</text></g>
<g id="n-octave_file_reader" class="m"><rect x="3532" y="3024" width="128" height="28"/><text x="3596" y="3042.5">octave_file_reader</text></g>
</svg>
